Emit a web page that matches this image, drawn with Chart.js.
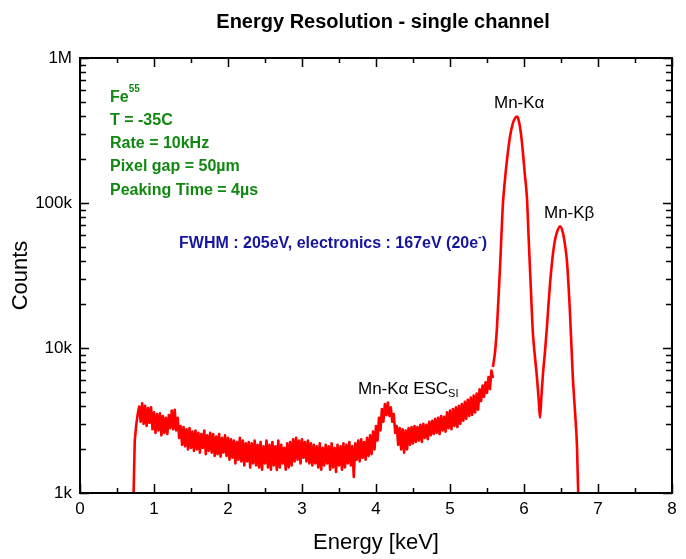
<!DOCTYPE html>
<html>
<head>
<meta charset="utf-8">
<title>Energy Resolution - single channel</title>
<script src="https://cdn.jsdelivr.net/npm/chart.js@4.4.1/dist/chart.umd.min.js"></script>
<style>
  html, body { margin: 0; padding: 0; background: #fff; }
  #wrap { width: 686px; height: 559px; }
</style>
</head>
<body>
<div id="wrap"><canvas id="espectro" width="686" height="559"></canvas></div>
<script>
// === Datos del espectro ===
// fondo ruidoso: un canal cada 0.02 keV a partir de 0.72 keV
const bgStartKeV = 0.72;
const bgStepKeV = 0.02;
const bgCounts = [
  800, 2300, 2950, 3500, 3950,
  3100, 4150, 3000, 4000, 2900, 3850, 3050, 3900, 2750,
  3600, 2600, 3500, 2700, 3550, 2500, 3400, 2600, 3300, 2550,
  3450, 2800, 3700, 2750, 3750, 2700, 3300, 2400, 2900, 2150,
  2850, 2100, 2750, 2000, 2800, 2050, 2650, 1950, 2700, 2000,
  2600, 1900, 2550, 2050, 2700, 1850, 2500, 1950, 2600, 1900,
  2550, 1800, 2450, 1850, 2550, 1780, 2400, 1900, 2500, 1800,
  2400, 1700, 2350, 1750, 2300, 1600, 2250, 1700, 2400, 1650,
  2300, 1550, 2200, 1650, 2250, 1500, 2200, 1600, 2300, 1550,
  2150, 1500, 2250, 1450, 2100, 1600, 2300, 1500, 2150, 1450,
  2250, 1550, 2100, 1440, 2300, 1500, 2150, 1600, 2050, 1450,
  2200, 1500, 2250, 1550, 2350, 1650, 2400, 1700, 2300, 1600,
  2350, 1750, 2250, 1650, 2300, 1600, 2200, 1550, 2150, 1600,
  2100, 1500, 2200, 1450, 2050, 1550, 2150, 1600, 2100, 1450,
  2200, 1500, 2050, 1400, 2150, 1550, 2100, 1450, 2200, 1500,
  2150, 1600, 2250, 1550, 2100, 1290, 2200, 1700, 2300, 1650,
  2350, 1750, 2250, 1700, 2400, 1800, 2500, 1850, 2650, 2000,
  2900, 2300, 3300, 2700, 3800, 3100, 4100, 3450, 4200, 3400,
  3900, 3100, 3500, 2600, 2900, 2150, 2800, 2000, 2750, 1900,
  2700, 2000, 2800, 2150, 2850, 2200, 2900, 2250, 2850, 2300,
  2950, 2250, 3000, 2400, 2950, 2350, 3100, 2500, 3150, 2550,
  3250, 2600, 3300, 2550, 3400, 2700, 3350, 2650, 3600, 2800,
  3700, 2750, 3800, 2900, 3900, 2850, 4000, 3000, 4100, 3150,
  4250, 3250, 4400, 3400, 4550, 3450, 4700, 3600, 4850, 3750,
  5200, 4300, 5500, 4600, 5800, 4900, 6300, 5200, 7000, 6200
];

// picos Mn-Kα y Mn-Kβ
const peakEnergy = [5.58, 5.61, 5.635, 5.655, 5.676, 5.695, 5.716, 5.74, 5.77, 5.81,
  5.85, 5.88, 5.905, 5.925, 5.946, 5.966, 5.986, 6.01, 6.04, 6.06,
  6.08, 6.10, 6.12, 6.15, 6.176, 6.20, 6.216, 6.235, 6.257, 6.285,
  6.31, 6.35, 6.39, 6.42, 6.446, 6.486, 6.527, 6.555, 6.58, 6.62,
  6.66, 6.69, 6.716, 6.74];
const peakCounts = [7400, 9500, 14000, 22000, 36000, 60000, 100000, 140000, 198000, 285000,
  356000, 385000, 395000, 378000, 334000, 280000, 221000, 160000, 108000, 62000,
  36000, 21000, 12700, 8500, 6200, 4300, 3300, 4600, 6700, 9600,
  14000, 27000, 44000, 56000, 63000, 69000, 62000, 51000, 40000, 18000,
  6300, 3600, 2100, 700];

// ejes
const xTicks = [0, 1, 2, 3, 4, 5, 6, 7, 8];
const xMinorTicks = [0.5, 1.5, 2.5, 3.5, 4.5, 5.5, 6.5, 7.5];
const yTicks = [1e3, 1e4, 1e5, 1e6];
const yTickLabels = ['1k', '10k', '100k', '1M'];
const yMinorFactors = [2, 3, 4, 5, 6, 7, 8, 9];

const FUENTE = "'Liberation Sans', Arial, sans-serif";

const bgPoints = bgCounts.map((c, i) => ({ x: +(bgStartKeV + i * bgStepKeV).toFixed(2), y: c }));
const peakPoints = peakEnergy.map((e, i) => ({ x: e, y: peakCounts[i] }));

// === Texto con super/subíndices ===
function textoRico(ctx, partes, x, y) {
  let cx = x;
  partes.forEach(p => {
    ctx.font = p.font;
    ctx.fillText(p.t, cx, y + (p.dy || 0));
    cx += ctx.measureText(p.t).width;
  });
}

// === Marco, ticks internos y anotaciones ===
const marcoYTexto = {
  id: 'marcoYTexto',
  afterDatasetsDraw(chart) {
    const { ctx, chartArea: a, scales: { x, y } } = chart;
    ctx.save();
    ctx.strokeStyle = '#000';
    ctx.lineWidth = 1.5;
    ctx.beginPath();
    const tickX = (v, len) => {
      const px = Math.round(x.getPixelForValue(v)) + 0.5;
      ctx.moveTo(px, a.bottom); ctx.lineTo(px, a.bottom - len);
      ctx.moveTo(px, a.top); ctx.lineTo(px, a.top + len);
    };
    const tickY = (v, len) => {
      const py = Math.round(y.getPixelForValue(v)) + 0.5;
      ctx.moveTo(a.left, py); ctx.lineTo(a.left + len, py);
      ctx.moveTo(a.right, py); ctx.lineTo(a.right - len, py);
    };
    xTicks.forEach(v => tickX(v, 9));
    xMinorTicks.forEach(v => tickX(v, 5));
    yTicks.forEach(v => tickY(v, 9));
    yTicks.slice(0, -1).forEach(d => yMinorFactors.forEach(f => tickY(d * f, 6)));
    ctx.stroke();

    ctx.lineWidth = 2;
    ctx.strokeRect(a.left, a.top, a.right - a.left, a.bottom - a.top);

    // título
    ctx.fillStyle = '#000';
    ctx.textBaseline = 'alphabetic';
    ctx.textAlign = 'center';
    ctx.font = 'bold 20px ' + FUENTE;
    ctx.fillText('Energy Resolution - single channel', 383, 28);

    ctx.textAlign = 'left';
    // condiciones de medida
    ctx.fillStyle = '#118811';
    const verde = 'bold 16px ' + FUENTE;
    textoRico(ctx, [{ t: 'Fe', font: verde }, { t: '55', font: 'bold 10px ' + FUENTE, dy: -10 }], 110, 102);
    ctx.font = verde;
    ctx.fillText('T = -35C', 110, 125);
    ctx.fillText('Rate = 10kHz', 110, 148);
    ctx.fillText('Pixel gap = 50µm', 110, 171);
    ctx.fillText('Peaking Time = 4µs', 110, 195);

    // resolución
    ctx.fillStyle = '#15159e';
    const azul = 'bold 16px ' + FUENTE;
    textoRico(ctx, [
      { t: 'FWHM : 205eV, electronics : 167eV (20e', font: azul },
      { t: '-', font: 'bold 11px ' + FUENTE, dy: -8 },
      { t: ')', font: azul }
    ], 179, 248);

    // etiquetas de picos
    ctx.fillStyle = '#000';
    const negro = '17px ' + FUENTE;
    ctx.font = negro;
    ctx.fillText('Mn-Kα', 494, 108);
    ctx.fillText('Mn-Kβ', 544, 218);
    textoRico(ctx, [{ t: 'Mn-Kα ESC', font: negro }, { t: 'SI', font: '11px ' + FUENTE, dy: 3 }], 358, 394);
    ctx.restore();
  }
};

new Chart(document.getElementById('espectro'), {
  type: 'line',
  data: {
    datasets: [{
      label: 'fondo',
      data: bgPoints,
      borderColor: '#ff0000',
      borderWidth: 2.6,
      borderJoinStyle: 'round',
      pointRadius: 0,
      tension: 0
    }, {
      label: 'picos',
      data: peakPoints,
      borderColor: '#ff0000',
      borderWidth: 2.6,
      borderJoinStyle: 'round',
      pointRadius: 0,
      cubicInterpolationMode: 'monotone'
    }]
  },
  options: {
    responsive: false,
    animation: false,
    layout: { padding: { top: 58, right: 14, bottom: 0, left: 0 } },
    plugins: {
      legend: { display: false },
      tooltip: { enabled: false },
      title: { display: false }
    },
    scales: {
      x: {
        type: 'linear',
        min: 0,
        max: 8,
        afterFit: s => { s.height = 66; },
        afterBuildTicks: s => { s.ticks = xTicks.map(v => ({ value: v })); },
        grid: { display: false, drawTicks: false },
        border: { display: false },
        ticks: { autoSkip: false, maxRotation: 0, padding: 6, color: '#000', font: { family: FUENTE, size: 17 } },
        title: { display: true, text: 'Energy [keV]', color: '#000', font: { family: FUENTE, size: 22 }, padding: { top: 0, bottom: 3 } }
      },
      y: {
        type: 'logarithmic',
        min: 1000,
        max: 1000000,
        afterFit: s => { s.width = 80; },
        afterBuildTicks: s => { s.ticks = yTicks.map(v => ({ value: v })); },
        grid: { display: false, drawTicks: false },
        border: { display: false },
        ticks: {
          autoSkip: false,
          padding: 8,
          color: '#000',
          font: { family: FUENTE, size: 17 },
          callback: v => yTickLabels[yTicks.indexOf(v)]
        },
        title: { display: true, text: 'Counts', color: '#000', font: { family: FUENTE, size: 22 }, padding: { top: 8, bottom: 0 } }
      }
    }
  },
  plugins: [marcoYTexto]
});
</script>
</body>
</html>
